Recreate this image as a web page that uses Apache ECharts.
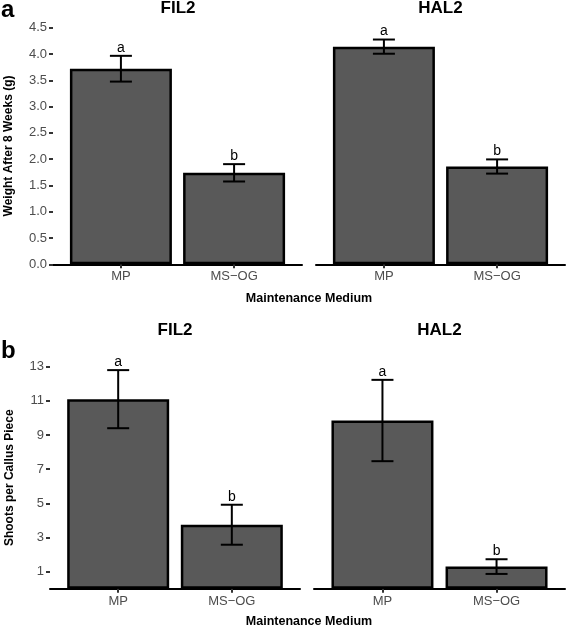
<!DOCTYPE html>
<html>
<head>
<meta charset="utf-8">
<script src="https://cdn.jsdelivr.net/npm/echarts@6/dist/echarts.min.js"></script>
<style>html,body{margin:0;padding:0;background:#fff}#c{width:567px;height:628px}</style>
</head>
<body>
<div id="c"></div>
<script>
// ---- data ----
const categories = ['MP', 'MS\u2212OG'];
const letters = ['a', 'b'];
const weightFIL2 = [3.72, 1.74];
const weightFIL2Err = [0.245, 0.165];
const weightHAL2 = [4.14, 1.86];
const weightHAL2Err = [0.135, 0.135];
const shootsFIL2 = [11.1, 3.75];
const shootsFIL2Err = [1.7, 1.17];
const shootsHAL2 = [9.85, 1.3];
const shootsHAL2Err = [2.38, 0.43];
const weightTicks = [0, 0.5, 1, 1.5, 2, 2.5, 3, 3.5, 4, 4.5];
const shootsTicks = [1, 3, 5, 7, 9, 11, 13];
const panelTitles = ['FIL2', 'HAL2', 'FIL2', 'HAL2'];

const FONT = '"Liberation Sans", Arial, Helvetica, sans-serif';
const TXT = '#4d4d4d';

const grids = [
  {left: 53, top: 27.7, width: 249, height: 236.6},
  {left: 316, top: 27.7, width: 249, height: 236.6},
  {left: 50, top: 366.7, width: 250, height: 222.1},
  {left: 314, top: 366.7, width: 251, height: 222.1}
];

function xAxisFor(i) {
  return {
    type: 'value', gridIndex: i, min: 0.4, max: 2.6,
    axisLine: {show: true, lineStyle: {color: '#000', width: 2}},
    axisTick: {show: true, customValues: [1, 2], length: 4, lineStyle: {color: '#333', width: 2}},
    axisLabel: {show: true, customValues: [1, 2], formatter: v => categories[Math.round(v) - 1] || '',
      color: TXT, fontFamily: FONT, fontSize: 13, margin: 6},
    splitLine: {show: false}
  };
}
function yAxisFor(i, weight, showLabels) {
  const base = {
    type: 'value', gridIndex: i, min: 0, max: weight ? 4.5 : 13,
    axisLine: {show: false},
    splitLine: {show: false}
  };
  if (weight) {
    base.interval = 0.5;
    base.axisTick = {show: showLabels, length: 4, lineStyle: {color: '#333', width: 2}};
    base.axisLabel = {show: showLabels, color: TXT, fontFamily: FONT, fontSize: 13, margin: 6,
      formatter: v => v.toFixed(1)};
  } else {
    base.axisTick = {show: showLabels, customValues: shootsTicks, length: 4, lineStyle: {color: '#333', width: 2}};
    base.axisLabel = {show: showLabels, customValues: shootsTicks, color: TXT, fontFamily: FONT, fontSize: 13, margin: 6};
  }
  if (showLabels) {
    base.name = weight ? 'Weight After 8 Weeks (g)' : 'Shoots per Callus Piece';
    base.nameLocation = 'middle';
    base.nameGap = weight ? 38 : 34;
    base.nameTextStyle = {fontFamily: FONT, fontSize: 12, fontWeight: 'bold', color: '#000'};
  }
  return base;
}

function barSeries(i, vals) {
  return {
    type: 'bar', xAxisIndex: i, yAxisIndex: i, barWidth: 102, z: 2,
    data: vals.map((v, k) => [k + 1, v]),
    itemStyle: {color: '#595959', borderColor: '#000', borderWidth: 2.5},
    silent: true, animation: false
  };
}
function errSeries(i, vals, errs) {
  return {
    type: 'custom', xAxisIndex: i, yAxisIndex: i, clip: false, animation: false, silent: true, z: 5,
    data: vals.map((v, k) => [k + 1, v, errs[k], k]),
    renderItem: function (params, api) {
      const x = api.value(0), m = api.value(1), e = api.value(2), k = api.value(3);
      const top = api.coord([x, m + e]);
      const bot = api.coord([x, m - e]);
      const hw = 11;
      const ls = {stroke: '#000', lineWidth: 2};
      return {
        type: 'group', children: [
          {type: 'line', shape: {x1: top[0], y1: top[1], x2: bot[0], y2: bot[1]}, style: ls},
          {type: 'line', shape: {x1: top[0] - hw, y1: top[1], x2: top[0] + hw, y2: top[1]}, style: ls},
          {type: 'line', shape: {x1: bot[0] - hw, y1: bot[1], x2: bot[0] + hw, y2: bot[1]}, style: ls},
          {type: 'text', x: top[0], y: top[1] - 1, style: {text: letters[k], fill: '#000',
            font: '14px ' + FONT, align: 'center', verticalAlign: 'bottom'}}
        ]
      };
    }
  };
}

const titles = [
  {text: panelTitles[0], left: 178, top: 0},
  {text: panelTitles[1], left: 440.5, top: 0},
  {text: panelTitles[2], left: 175, top: 322},
  {text: panelTitles[3], left: 439.5, top: 322}
].map(t => ({text: t.text, left: t.left, top: t.top, textAlign: 'center', padding: 0,
  textStyle: {fontFamily: FONT, fontSize: 17, fontWeight: 'bold', color: '#000'}}));
titles.push({text: 'a', left: 1, top: -2, padding: 0, textStyle: {fontFamily: FONT, fontSize: 24, fontWeight: 'bold', color: '#000'}});
titles.push({text: 'b', left: 1, top: 339, padding: 0, textStyle: {fontFamily: FONT, fontSize: 24, fontWeight: 'bold', color: '#000'}});
titles.push({text: 'Maintenance Medium', left: 309, top: 292, textAlign: 'center', padding: 0,
  textStyle: {fontFamily: FONT, fontSize: 12.5, fontWeight: 'bold', color: '#000'}});
titles.push({text: 'Maintenance Medium', left: 309, top: 615, textAlign: 'center', padding: 0,
  textStyle: {fontFamily: FONT, fontSize: 12.5, fontWeight: 'bold', color: '#000'}});

const option = {
  backgroundColor: '#fff',
  animation: false,
  title: titles,
  grid: grids,
  xAxis: [0, 1, 2, 3].map(xAxisFor),
  yAxis: [yAxisFor(0, true, true), yAxisFor(1, true, false), yAxisFor(2, false, true), yAxisFor(3, false, false)],
  series: [
    barSeries(0, weightFIL2), errSeries(0, weightFIL2, weightFIL2Err),
    barSeries(1, weightHAL2), errSeries(1, weightHAL2, weightHAL2Err),
    barSeries(2, shootsFIL2), errSeries(2, shootsFIL2, shootsFIL2Err),
    barSeries(3, shootsHAL2), errSeries(3, shootsHAL2, shootsHAL2Err)
  ]
};
const chart = echarts.init(document.getElementById('c'), null, {renderer: 'canvas'});
chart.setOption(option);
</script>
</body>
</html>
